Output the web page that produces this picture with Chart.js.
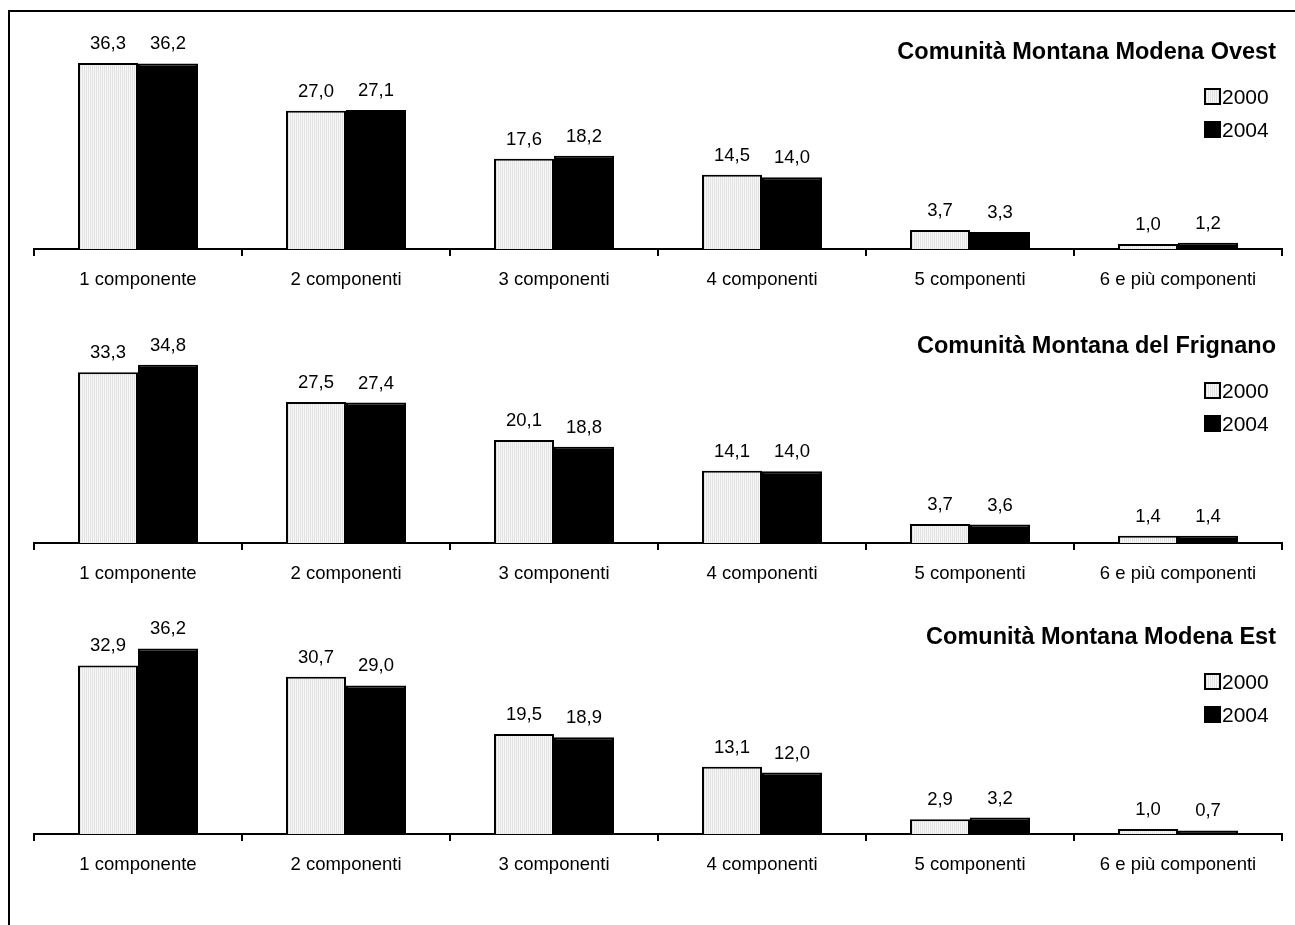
<!DOCTYPE html>
<html lang="it">
<head>
<meta charset="UTF-8">
<title>Famiglie per numero di componenti</title>
<script src="https://cdn.jsdelivr.net/npm/chart.js@4.4.1/dist/chart.umd.min.js"></script>
<style>
  body { margin: 0; background: #fff; }
  #wrap { position: relative; width: 1295px; height: 925px; overflow: hidden; }
  #frame { position: absolute; left: 8px; top: 10px; width: 1400px; height: 1000px;
           border-left: 2px solid #000; border-top: 2px solid #000; }
  canvas { position: absolute; left: 0; }
</style>
</head>
<body>
<div id="wrap">
  <div id="frame"></div>
  <canvas id="c0" width="1295" height="294" style="top:0px"></canvas>
  <canvas id="c1" width="1295" height="294" style="top:294px"></canvas>
  <canvas id="c2" width="1295" height="294" style="top:585px"></canvas>
</div>

<script>
var categories = ['1 componente', '2 componenti', '3 componenti', '4 componenti', '5 componenti', '6 e più componenti'];
var years = ['2000', '2004'];
var titles = ['Comunità Montana Modena Ovest', 'Comunità Montana del Frignano', 'Comunità Montana Modena Est'];

var ovest2000 = [36.3, 27.0, 17.6, 14.5, 3.7, 1.0];
var ovest2004 = [36.2, 27.1, 18.2, 14.0, 3.3, 1.2];
var frignano2000 = [33.3, 27.5, 20.1, 14.1, 3.7, 1.4];
var frignano2004 = [34.8, 27.4, 18.8, 14.0, 3.6, 1.4];
var est2000 = [32.9, 30.7, 19.5, 13.1, 2.9, 1.0];
var est2004 = [36.2, 29.0, 18.9, 12.0, 3.2, 0.7];

var FONT = '"Liberation Sans", Arial, sans-serif';

// light grey fill with fine vertical stripes, like the original 2000 bars
var pc = document.createElement('canvas');
pc.width = 2; pc.height = 2;
var px = pc.getContext('2d');
px.fillStyle = '#e2e2e2'; px.fillRect(0, 0, 1, 2);
px.fillStyle = '#f7f7f7'; px.fillRect(1, 0, 1, 2);
var stripes = px.createPattern(pc, 'repeat');

function fmt(v) { return v.toFixed(1).replace('.', ','); }

var overlay = {
  id: 'overlay',
  afterDatasetsDraw: function(chart) {
    var ctx = chart.ctx;
    ctx.save();
    ctx.font = '18.5px ' + FONT;
    ctx.fillStyle = '#000';
    ctx.textAlign = 'center';
    ctx.textBaseline = 'alphabetic';
    chart.data.datasets.forEach(function(ds, i) {
      chart.getDatasetMeta(i).data.forEach(function(bar, j) {
        ctx.fillText(fmt(ds.data[j]), bar.x, bar.y - 14);
      });
    });
    ctx.restore();
  },
  afterDraw: function(chart, args, opts) {
    var ctx = chart.ctx;
    ctx.save();
    ctx.fillStyle = '#000';
    ctx.font = 'bold 23.5px ' + FONT;
    ctx.textAlign = 'right';
    ctx.fillText(opts.title, 1276, 59);

    // legend
    ctx.font = '21px ' + FONT;
    ctx.textAlign = 'left';
    chart.data.datasets.forEach(function(ds, i) {
      var base = 104 + i * 33;
      ctx.fillStyle = ds.backgroundColor;
      ctx.fillRect(1205, base - 15, 15, 15);
      ctx.strokeStyle = '#000';
      ctx.lineWidth = 2;
      ctx.strokeRect(1205, base - 15, 15, 15);
      ctx.fillStyle = '#000';
      ctx.fillText(ds.label, 1222, base);
    });
    ctx.restore();
  }
};

function makeChart(id, title, s2000, s2004) {
  return new Chart(document.getElementById(id), {
    type: 'bar',
    data: {
      labels: categories,
      datasets: [
        { label: years[0], data: s2000, backgroundColor: stripes, borderColor: '#000', borderWidth: 2 },
        { label: years[1], data: s2004, backgroundColor: '#000', borderColor: '#000', borderWidth: 2 }
      ]
    },
    options: {
      responsive: false,
      animation: false,
      devicePixelRatio: 1,
      layout: { padding: { left: 34, right: 13, top: 44, bottom: 0 } },
      datasets: { bar: { barPercentage: 1, categoryPercentage: 0.577 } },
      plugins: {
        legend: { display: false },
        tooltip: { enabled: false },
        overlay: { title: title }
      },
      scales: {
        y: { display: false, min: 0, max: 40 },
        x: {
          grid: { display: true, drawOnChartArea: false, offset: true, tickLength: 7, color: '#000', lineWidth: 2 },
          border: { display: true, color: '#000', width: 2 },
          ticks: { color: '#000', font: { family: FONT, size: 18.5 }, padding: 13, autoSkip: false, maxRotation: 0 },
          afterFit: function(scale) { scale.height = 45; }
        }
      }
    },
    plugins: [overlay]
  });
}

makeChart('c0', titles[0], ovest2000, ovest2004);
makeChart('c1', titles[1], frignano2000, frignano2004);
makeChart('c2', titles[2], est2000, est2004);
</script>
</body>
</html>
